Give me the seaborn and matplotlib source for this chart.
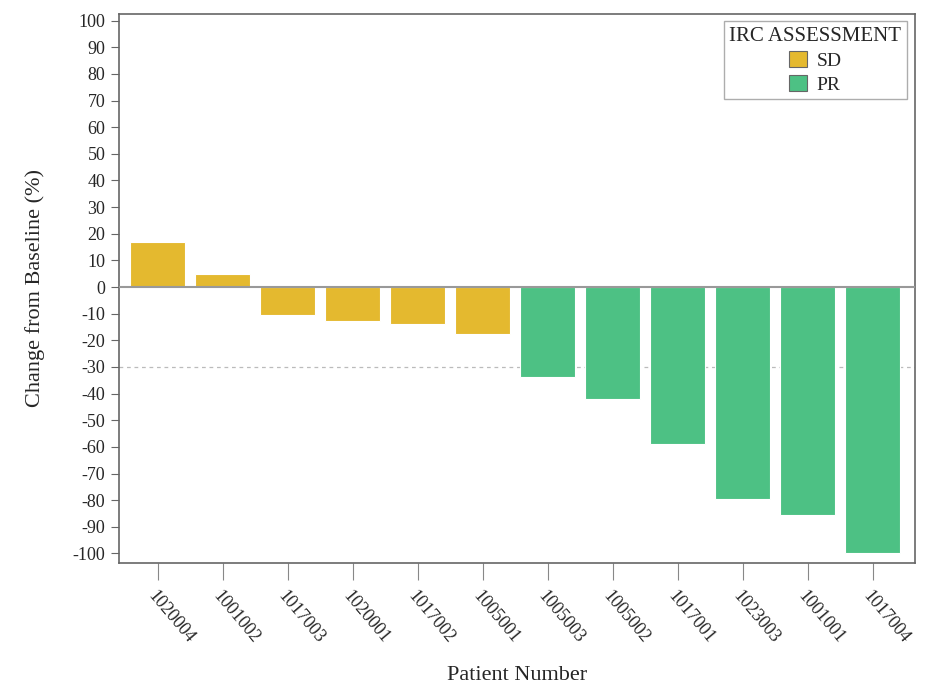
import numpy as np
import pandas as pd
import matplotlib
matplotlib.use("Agg")
import matplotlib.pyplot as plt
import seaborn as sns

patients = ["1020004", "1001002", "1017003", "1020001", "1017002", "1005001",
            "1005003", "1005002", "1017001", "1023003", "1001001", "1017004"]
change = [17.0, 5.0, -10.5, -12.8, -13.9, -17.7,
          -33.7, -41.9, -59.0, -79.5, -85.5, -100.0]
response = ["SD"] * 6 + ["PR"] * 6
colors = {"SD": "#E4B92F", "PR": "#4DC184"}

df = pd.DataFrame({"patient": patients, "change": change, "IRC": response})

sns.set_style("white")
plt.rcParams["font.family"] = ["Liberation Serif", "DejaVu Serif"]
plt.rcParams["axes.unicode_minus"] = False

fig, ax = plt.subplots(figsize=(9.27, 6.86), dpi=100)
sns.barplot(data=df, x="patient", y="change", hue="IRC", palette=colors,
            dodge=False, width=0.85, edgecolor="white", linewidth=0.8,
            saturation=1, ax=ax)

ax.axhline(0, color="#999999", linewidth=1.5, zorder=3)
ax.axhline(-30, color="#bbbbbb", linewidth=0.9, linestyle=(0, (3, 3)), zorder=0)

ax.set_ylim(-103.4, 102.6)
ax.set_xlim(-0.6, len(patients) - 1 + 0.65)
ax.set_yticks(np.arange(-100, 101, 10))
ax.tick_params(axis="y", labelsize=13, length=6, color="#666666", direction="out", left=True)
ax.tick_params(axis="x", labelsize=13, length=12, color="#888888", direction="out", bottom=True, pad=6)
for lbl in ax.get_xticklabels():
    lbl.set_rotation(-50)
    lbl.set_ha("left")
    lbl.set_va("top")
    lbl.set_rotation_mode("anchor")

for sp in ax.spines.values():
    sp.set_color("#666666")
    sp.set_linewidth(1.2)

ax.set_xlabel("Patient Number", fontsize=16, labelpad=14)
ax.set_ylabel("Change from Baseline (%)", fontsize=16, labelpad=20)

leg = ax.legend(title="IRC ASSESSMENT", loc="upper right", fontsize=14,
                title_fontsize=15, frameon=True, fancybox=False,
                borderaxespad=0.4, handlelength=0.9, handleheight=0.9,
                borderpad=0.3, labelspacing=0.25, handletextpad=0.5)
leg.get_frame().set_edgecolor("#999999")
leg.get_frame().set_linewidth(1.0)
for h in leg.legend_handles:
    h.set_edgecolor("#666666")
    h.set_linewidth(0.8)

plt.subplots_adjust(left=0.128, right=0.987, top=0.98, bottom=0.18)
plt.savefig("out.png", dpi=100)
